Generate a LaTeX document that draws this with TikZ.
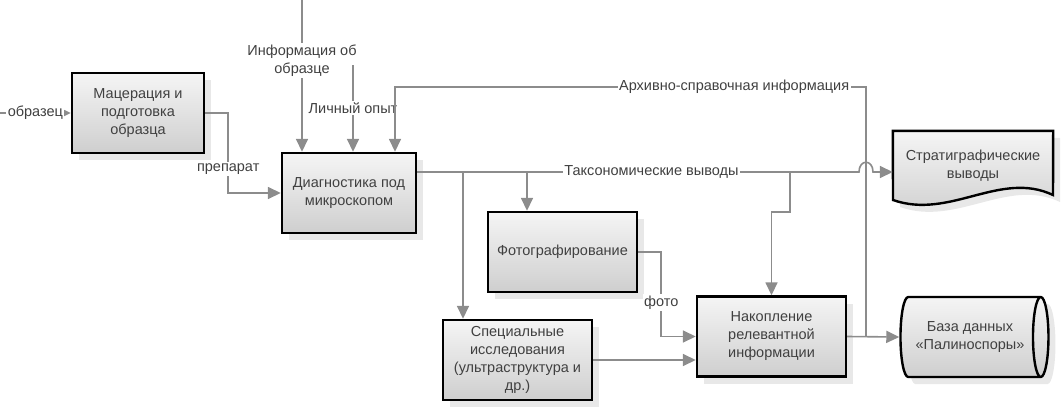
\documentclass[tikz,border=0pt]{standalone}
\usepackage{fontspec}
\setmainfont{Liberation Sans}
\setsansfont{Liberation Sans}
\usetikzlibrary{arrows.meta,shapes.geometric,shadows,calc,backgrounds}

\begin{document}
\begin{tikzpicture}[x=1pt,y=-1pt,font=\sffamily\fontsize{14.5}{18}\selectfont,
  block/.style={draw=black,line width=2.4pt,top color=gray!8,bottom color=gray!38,
    minimum width=149pt,minimum height=80pt,align=center,text=black!75,inner sep=2pt,
    drop shadow={shadow xshift=7pt,shadow yshift=-7pt,fill=gray!18,opacity=1}},
  link/.style={draw=black!45,line width=1.6pt,-{Triangle[length=13pt,width=12pt]}},
  lbl/.style={fill=white,inner sep=1.5pt,text=black!75,align=center}]
\useasboundingbox (0,0) rectangle (1063,410);
% process boxes
\node[block,minimum width=132pt] (mac) at (138,113) {Мацерация и\\подготовка\\образца};
\node[block,minimum width=134pt] (diag) at (349,193) {Диагностика под\\микроскопом};
\node[block] (foto) at (562.5,252) {Фотографирование};
\node[block] (spec) at (517.5,360) {Специальные\\исследования\\(ультраструктура и\\др.)};
\node[block] (acc) at (771.5,336.5) {Накопление\\релевантной\\информации};
% outputs
\node[text=black!75,align=center,minimum width=160pt,minimum height=69pt] (strat) at (973,165.5) {Стратиграфические\\выводы};
\begin{scope}[on background layer]
\draw[line width=2.4pt,top color=gray!8,bottom color=gray!38,
    drop shadow={shadow xshift=7pt,shadow yshift=-7pt,fill=gray!18,opacity=1}]
  (strat.north west) -- (strat.north east) -- (1053,195)
  .. controls (1000,170) and (950,220) .. (893,200) -- cycle;
\end{scope}
\node[block,cylinder,shape aspect=0.5,minimum width=80pt,minimum height=148pt,
  fill=gray!22,inner sep=0pt] (db) at (970,337) {База данных\\«Палиноспоры»};
% free ends and branch points
\coordinate (sample) at (0,113);
\coordinate (info) at (302,0);
\coordinate (exp) at (353,65);
\coordinate (archtop) at (866,87);
\coordinate (archin) at (395,0);
\coordinate (t0) at ([yshift=21pt]diag.east);
\coordinate (hop) at (t0 -| archtop);
\coordinate (tspec) at (463,172);
\coordinate (tfoto) at (527,172);
\coordinate (tacc) at (790,172);
\coordinate (j1) at (acc.east -| archtop);
% connectors
\draw[link] (sample) -- node[lbl]{образец} (mac.west);
\draw[link] (mac.east) -- ++(23,0) |- node[lbl,pos=0.35]{препарат} (diag.west);
\draw[link] (info) -- node[lbl,pos=0.4]{Информация об\\образце} (info |- diag.north);
\draw[link] (exp) -- node[lbl,pos=0.5]{Личный опыт} (exp |- diag.north);
\draw[link] (j1) -- (archtop) -- node[lbl,pos=0.28]{Архивно-справочная информация} (archtop -| archin) -- (archin |- diag.north);
\draw[link] (t0) -- node[lbl,pos=0.53]{Таксономические выводы} ($(hop)+(-7,0)$)
  .. controls ($(hop)+(-7,-13)$) and ($(hop)+(7,-13)$) .. ($(hop)+(7,0)$) -- (t0 -| strat.west);
\draw[link] (tspec) -- (tspec |- spec.north);
\draw[link] (tfoto) -- (tfoto |- foto.north);
\draw[link] (tacc) -- ++(0,40) -| (acc.north);
\draw[link] (foto.east) -- ++(23,0) |- node[lbl,pos=0.3]{фото} (acc.west);
\draw[link] (spec.east) -- (spec.east -| acc.west);
\draw[link] (acc.east) -- (db.west);
\end{tikzpicture}
\end{document}
